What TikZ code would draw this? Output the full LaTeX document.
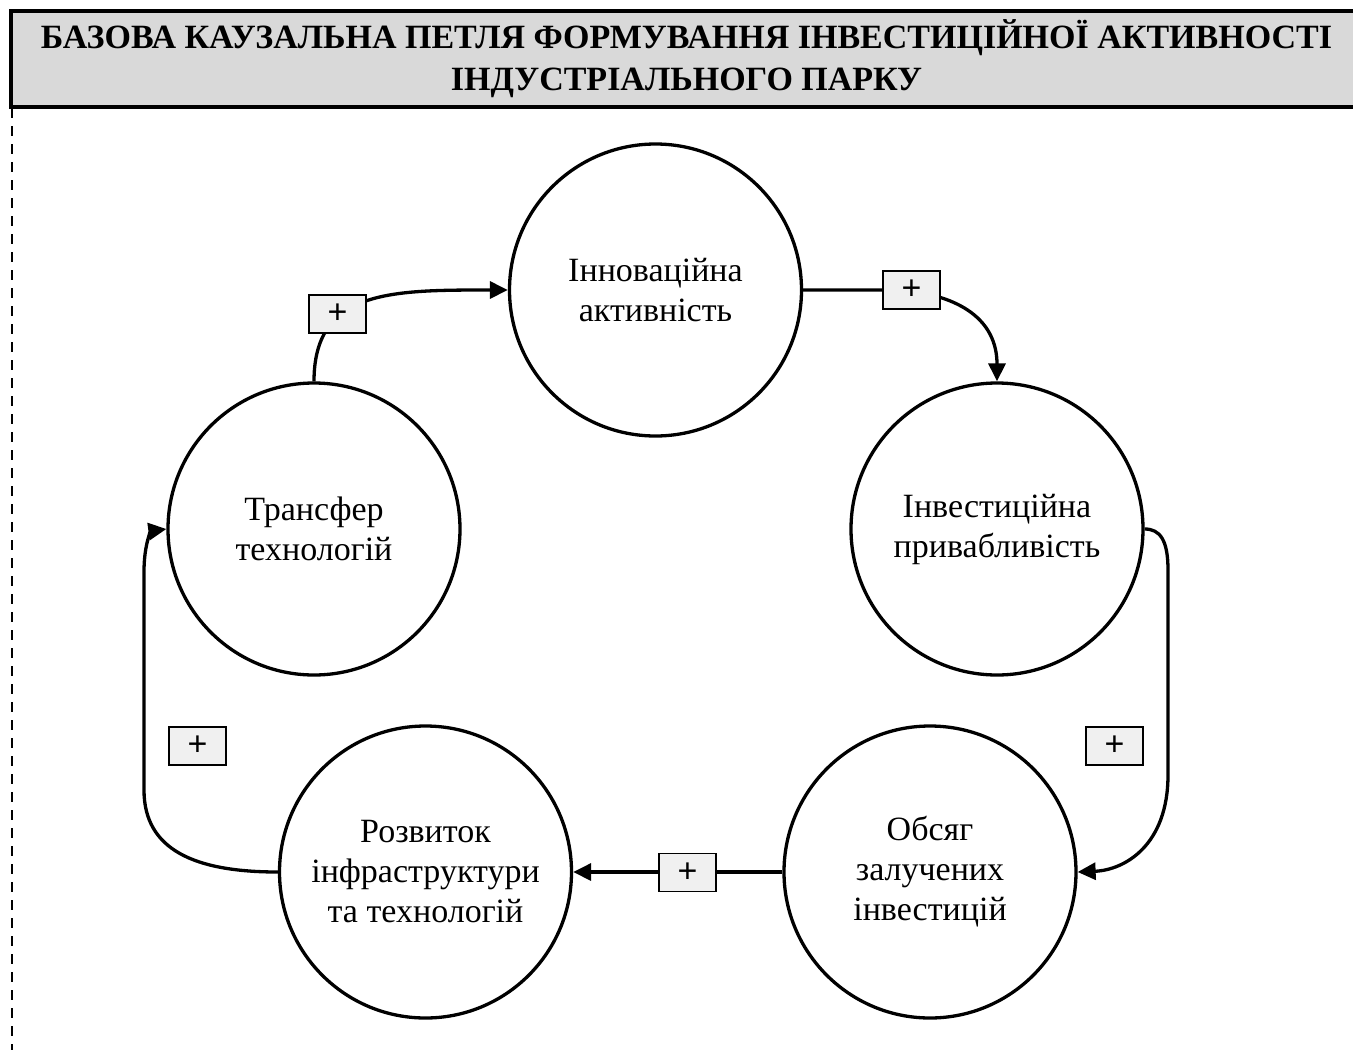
\documentclass[tikz,border=0pt]{standalone}
\usepackage{fontspec}
\setmainfont{Liberation Serif}
\newfontfamily\plusfont{Liberation Sans}
\usetikzlibrary{arrows.meta}
\definecolor{hdrgray}{HTML}{D9D9D9}
\definecolor{boxgray}{HTML}{F0F0F0}
\begin{document}
\begin{tikzpicture}[x=1pt,y=-1pt,
  factor/.style={circle, draw, line width=3.3pt, minimum size=292pt, inner sep=0pt,
    align=center, font=\fontsize{34}{40}\selectfont},
  conn/.style={line width=3.3pt, -{Triangle[length=18pt,width=17pt]}},
  plusbox/.style={draw, fill=boxgray, line width=1.6pt, minimum width=57pt,
    minimum height=38pt, inner sep=0pt, font=\plusfont\fontsize{34}{34}\selectfont},
  header/.style={draw, fill=hdrgray, line width=3.3pt, minimum width=1351pt,
    minimum height=96pt, inner sep=0pt, align=center,
    font=\bfseries\fontsize{34}{42}\selectfont},
  frameline/.style={line width=2.8pt, dash pattern=on 10pt off 8pt}]
\useasboundingbox (0,0) rectangle (1353,1050);

% header
\node[header] (hdr) at (686.5,59) {БАЗОВА КАУЗАЛЬНА ПЕТЛЯ ФОРМУВАННЯ ІНВЕСТИЦІЙНОЇ АКТИВНОСТІ\\ІНДУСТРІАЛЬНОГО ПАРКУ};
\coordinate (ftop) at (12,108);
\coordinate (fbot) at (12,1052);
\draw[frameline] (ftop) -- (fbot);

% factors
\node[factor] (I) at (655.5,290) {Інноваційна\\активність};
\node[factor] (P) at (997,529) {Інвестиційна\\привабливість};
\node[factor] (O) at (930,872) {Обсяг\\залучених\\інвестицій};
\node[factor] (R) at (425.5,872) {Розвиток\\інфраструктури\\та технологій};
\node[factor] (T) at (314,529) {Трансфер\\технологій};

% connectors
\draw[conn] (T.north) .. controls (314,290) and (390,290) .. (I.west);
\draw[conn] (I.east) -- (900,290) .. controls (960,295) and (997,320) .. (P.north);
\draw[conn] (P.east) .. controls (1160,529) and (1168,540) .. (1168,570)
  -- (1168,775) .. controls (1168,845) and (1125,870) .. (O.east);
\draw[conn] (O.west) -- (R.east);
\draw[conn] (R.west) .. controls (195,872) and (144,850) .. (144,790)
  -- (144,572) .. controls (144,542) and (152,531) .. (T.west);

% polarity labels
\node[plusbox] (pA) at (337.5,314) {+};
\node[plusbox] (pB) at (911.5,290) {+};
\node[plusbox] (pC) at (1114.5,746) {+};
\node[plusbox] (pD) at (687.5,872.5) {+};
\node[plusbox] (pE) at (197.5,746) {+};
\end{tikzpicture}
\end{document}
